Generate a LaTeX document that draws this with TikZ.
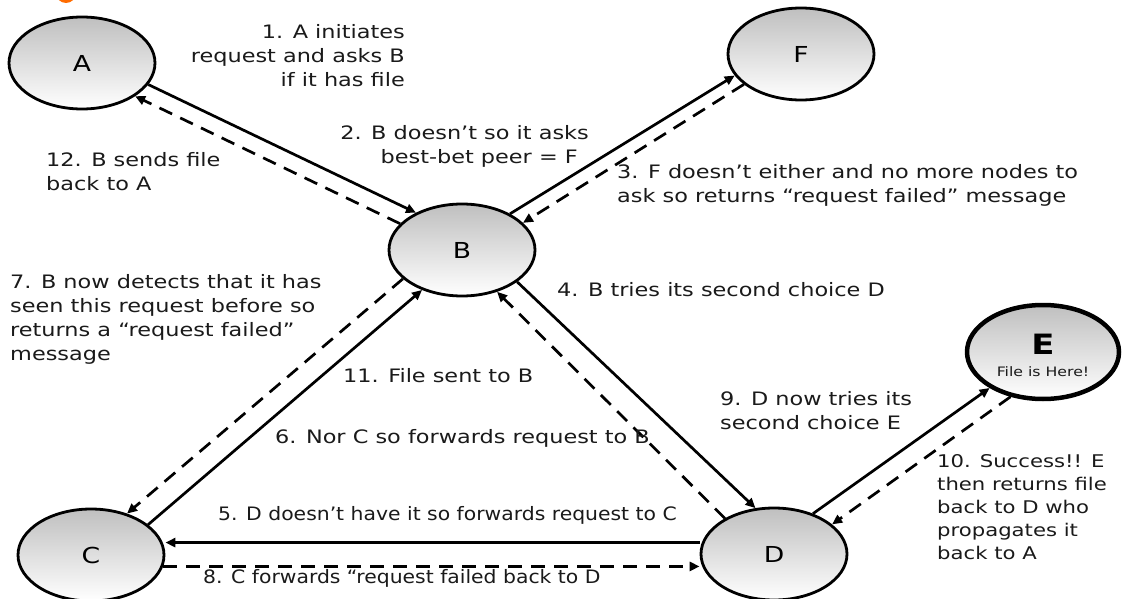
\documentclass[tikz,border=0pt]{standalone}
\usepackage{fontspec}
\setmainfont[FakeStretch=1.21]{DejaVu Sans}
\newfontfamily\narrowfont[FakeStretch=1.1]{DejaVu Sans}
\usetikzlibrary{shapes.geometric,arrows.meta}
\definecolor{txt}{HTML}{1A1A1A}
\tikzset{
  peer/.style={ellipse, draw=black, line width=2.8pt, inner sep=0pt,
    minimum width=146pt, minimum height=92pt,
    top color=black!25, bottom color=white, font=\fontsize{22}{24}\selectfont},
  msg/.style={line width=2.7pt, -{Triangle[length=10pt,width=9pt]}},
  reply/.style={msg, dash pattern=on 14pt off 9pt},
  lbl/.style={inner sep=0pt, text=txt, font=\fontsize{18.5}{24}\selectfont},
  lbln/.style={inner sep=0pt, text=txt, font=\narrowfont\fontsize{18.5}{24}\selectfont},
  lbls/.style={inner sep=0pt, text=txt, font=\fontsize{17.5}{23}\selectfont},
}
\begin{document}
\begin{tikzpicture}[x=1pt,y=-1pt]
\clip (0,0) rectangle (1122,599);
\fill[white] (0,0) rectangle (1122,599);
\fill[orange!85!red] (66,-7) circle (10);
% peers
\node[peer] (A) at (82,63) {A};
\node[peer] (F) at (801,54) {F};
\node[peer] (B) at (462,250) {B};
\node[peer] (C) at (91,555) {C};
\node[peer] (D) at (774,554) {D};
\node[peer, line width=4.5pt, minimum width=152pt, minimum height=94pt] (E) at (1043,352) {};
\node[inner sep=0pt, font=\fontsize{28}{30}\selectfont\bfseries] (Et) at (1043,344) {E};
\node[inner sep=0pt, text=txt, font=\fontsize{13}{14}\selectfont] (Ef) at (1043,372) {File is Here!};
% connectors
\draw[msg] (A.-18) -- (B.141);
\draw[reply] (B.157) -- (A.-32);
\draw[msg] (B.37) -- (F.198);
\draw[reply] (F.208) -- (B.24);
\draw[msg] (B.-30) -- (D.112);
\draw[reply] (D.144) -- (B.-50);
\draw[msg] (C.28) -- (B.225);
\draw[reply] (B.206) -- (C.49);
\draw[msg] (D.171 -| D.west) -- (D.171 -| C.east);
\draw[reply] (C.-9) -- (C.-9 -| D.west);
\draw[msg] (D.46) -- (E.214);
\draw[reply] (E.234) -- (D.27);
% labels
\node[lbl, anchor=east, align=right] (l1) at (405,56) {1. A initiates\\request and asks B\\if it has file};
\node[lbl, anchor=east, align=right] (l2) at (589,146) {2. B doesn’t so it asks\\best-bet peer = F\hspace*{11pt}};
\node[lbl, anchor=west, align=left] (l3) at (617,185) {3. F doesn’t either and no more nodes to\\ask so returns “request failed” message};
\node[lbl, anchor=west, align=left] (l12) at (46,172) {12. B sends file\\back to A};
\node[lbl, anchor=west, align=left] (l7) at (10,319) {7. B now detects that it has\\seen this request before so\\returns a “request failed”\\message};
\node[lbl, anchor=west] (l4) at (557,290) {4. B tries its second choice D};
\node[lbl, anchor=west] (l11) at (343,376) {11. File sent to B};
\node[lbl, anchor=west, align=left] (l9) at (720,411) {9. D now tries its\\second choice E};
\node[lbl, anchor=west] (l6) at (275,438) {6. Nor C so forwards request to B};
\node[lbls, anchor=west, align=left] (l10) at (937,507) {10. Success!! E\\then returns file\\back to D who\\propagates it\\back to A};
\node[lbln, anchor=west] (l5) at (218,515) {5. D doesn’t have it so forwards request to C};
\node[lbln, anchor=west] (l8) at (203,578) {8. C forwards “request failed back to D};
\end{tikzpicture}
\end{document}
